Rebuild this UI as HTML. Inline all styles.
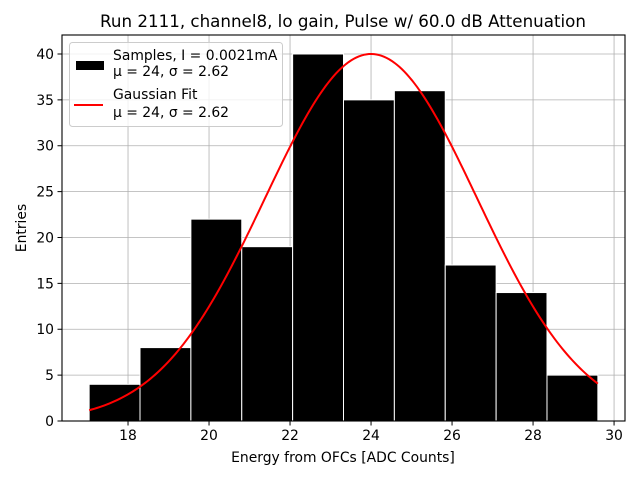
<!DOCTYPE html>
<html><head><meta charset="utf-8"><style>
body{margin:0;background:#fff}
text{font-family:"DejaVu Sans","Liberation Sans",sans-serif;fill:#000}
</style></head><body>
<svg id="c" width="640" height="480" xmlns="http://www.w3.org/2000/svg"></svg>
<script>
const binStart=17.04, binWidth=1.256;
const counts=[4,8,22,19,40,35,36,17,14,5];
const xTicks=[18,20,22,24,26,28,30];
const yTicks=[0,5,10,15,20,25,30,35,40];
const fitMu=24, fitSigma=2.62, fitAmp=40;
const L=62,R=625,T=35,B=421;
const xMin=16.37,xMax=30.27,yMin=0,yMax=42.07;
const X=v=>L+(v-xMin)/(xMax-xMin)*(R-L);
const Y=v=>B-(v-yMin)/(yMax-yMin)*(B-T);
const svg=document.getElementById('c');
const NS='http://www.w3.org/2000/svg';
function mk(tag,attrs,parent){const e=document.createElementNS(NS,tag);for(const k in attrs)e.setAttribute(k,attrs[k]);(parent||svg).appendChild(e);return e;}
let e;
e=mk('text',{x:343,y:27,'text-anchor':'middle','font-size':16.7});e.textContent='Run 2111, channel8, lo gain, Pulse w/ 60.0 dB Attenuation';


xTicks.forEach(t=>{e=mk('line',{x1:X(t),x2:X(t),y1:T,y2:B,stroke:'#b0b0b0','stroke-width':0.8});

});
yTicks.forEach(t=>{e=mk('line',{x1:L,x2:R,y1:Y(t),y2:Y(t),stroke:'#b0b0b0','stroke-width':0.8});

});
counts.forEach((c,i)=>{const x0=X(binStart+i*binWidth),x1=X(binStart+(i+1)*binWidth);
e=mk('rect',{x:x0,y:Y(c),width:x1-x0,height:Y(0)-Y(c),fill:'#000',stroke:'#fff','stroke-width':1});

});
let d='';const a=binStart,b=binStart+counts.length*binWidth;
for(let i=0;i<=200;i++){const v=a+(b-a)*i/200;const y=fitAmp*Math.exp(-((v-fitMu)**2)/(2*fitSigma*fitSigma));d+=(i?'L':'M')+X(v).toFixed(2)+' '+Y(y).toFixed(2);}
e=mk('path',{d:d,fill:'none',stroke:'red','stroke-width':2});


e=mk('rect',{x:L,y:T,width:R-L,height:B-T,fill:'none',stroke:'#000','stroke-width':1.1});


xTicks.forEach(t=>{mk('line',{x1:X(t),x2:X(t),y1:B,y2:B+4.5,stroke:'#000'});
e=mk('text',{x:X(t),y:B+19,'text-anchor':'middle','font-size':13.9});e.textContent=t;

});
yTicks.forEach(t=>{mk('line',{x1:L-4.5,x2:L,y1:Y(t),y2:Y(t),stroke:'#000'});
e=mk('text',{x:L-8,y:Y(t)+5,'text-anchor':'end','font-size':13.9});e.textContent=t;

});
e=mk('text',{x:343,y:462,'text-anchor':'middle','font-size':13.9});e.textContent='Energy from OFCs [ADC Counts]';


e=mk('text',{x:0,y:0,'text-anchor':'middle','font-size':13.9,transform:'translate(26,228) rotate(-90)'});e.textContent='Entries';


const g=mk('g',{});


mk('rect',{x:69.5,y:42.5,width:213,height:84,rx:3,fill:'rgba(255,255,255,0.8)',stroke:'#ccc'},g);
e=mk('rect',{x:76,y:61,width:28,height:9,fill:'#000'},g);


e=mk('line',{x1:74,x2:103,y1:105,y2:105,stroke:'red','stroke-width':2},g);


[['Samples, I = 0.0021mA',60],['μ = 24, σ = 2.62',76],['Gaussian Fit',99],['μ = 24, σ = 2.62',117]].forEach(([s,y])=>{
e=mk('text',{x:113,y:y,'font-size':13.9},g);e.textContent=s;

});
</script>
</body></html>
